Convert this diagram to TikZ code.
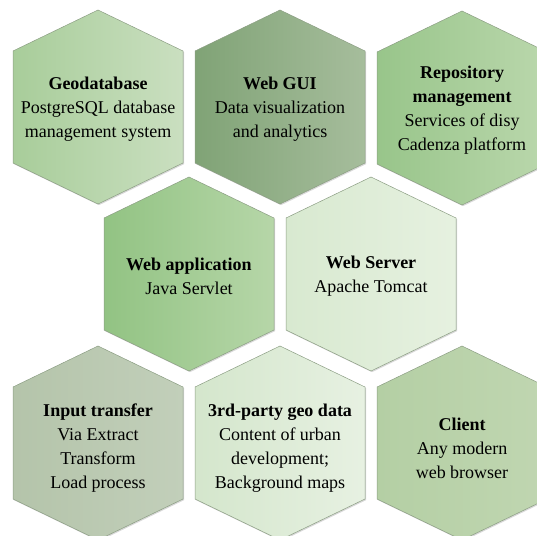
\documentclass[tikz,border=0pt]{standalone}
\usepackage{fontspec}
\setmainfont{Liberation Serif}
\usetikzlibrary{shadows}

\definecolor{hexline}{RGB}{140,158,132}
\definecolor{geoL}{RGB}{168,205,154}
\definecolor{geoR}{RGB}{202,223,192}
\definecolor{guiL}{RGB}{128,163,118}
\definecolor{guiR}{RGB}{166,189,156}
\definecolor{repL}{RGB}{152,197,138}
\definecolor{repR}{RGB}{186,215,172}
\definecolor{appL}{RGB}{146,195,131}
\definecolor{appR}{RGB}{182,214,168}
\definecolor{srvL}{RGB}{216,233,208}
\definecolor{srvR}{RGB}{230,241,224}
\definecolor{inL}{RGB}{180,196,170}
\definecolor{inR}{RGB}{194,207,186}
\definecolor{trdL}{RGB}{212,230,204}
\definecolor{trdR}{RGB}{231,241,226}
\definecolor{cliL}{RGB}{180,207,164}
\definecolor{cliR}{RGB}{192,214,177}

\begin{document}
\begin{tikzpicture}[x=1pt, y=-1pt,
  hexcell/.style={draw=hexline, line width=0.5pt,
    drop shadow={shadow xshift=1pt, shadow yshift=-1.2pt, opacity=0.3}},
  celltext/.style={align=center, inner sep=0pt,
    font=\fontsize{18}{24}\selectfont}]
\useasboundingbox (0,0) rectangle (537,535);
\clip (0,0) rectangle (537,535);

% hexagon cells
\foreach \cx/\cy/\cl/\cr in {98/107/geoL/geoR, 280/107/guiL/guiR, 462/108/repL/repR,
    189/274/appL/appR, 371/274/srvL/srvR,
    98/443/inL/inR, 280/443/trdL/trdR, 462/443/cliL/cliR}
  \path[hexcell, shift={(\cx,\cy)}, left color=\cl, right color=\cr]
    (0,-97) -- (85,-56) -- (85,56) -- (0,97) -- (-85,56) -- (-85,-56) -- cycle;

% texts
\node[celltext] (geo) at (98,109) {\textbf{Geodatabase}\\PostgreSQL database\\management system};
\node[celltext] (gui) at (280,109) {\textbf{Web GUI}\\Data visualization\\and analytics};
\node[celltext] (repo) at (462,110) {\textbf{Repository}\\\textbf{management}\\Services of disy\\Cadenza platform};

\node[celltext] (app) at (189,276) {\textbf{Web application}\\Java Servlet};
\node[celltext] (srv) at (371,276) {\textbf{Web Server}\\Apache Tomcat};

\node[celltext] (etl) at (98,448) {\textbf{Input transfer}\\Via Extract\\Transform\\Load process};
\node[celltext] (third) at (280,448) {\textbf{3rd-party geo data}\\Content of urban\\development;\\Background maps};
\node[celltext] (cli) at (462,448) {\textbf{Client}\\Any modern\\web browser};
\end{tikzpicture}
\end{document}
